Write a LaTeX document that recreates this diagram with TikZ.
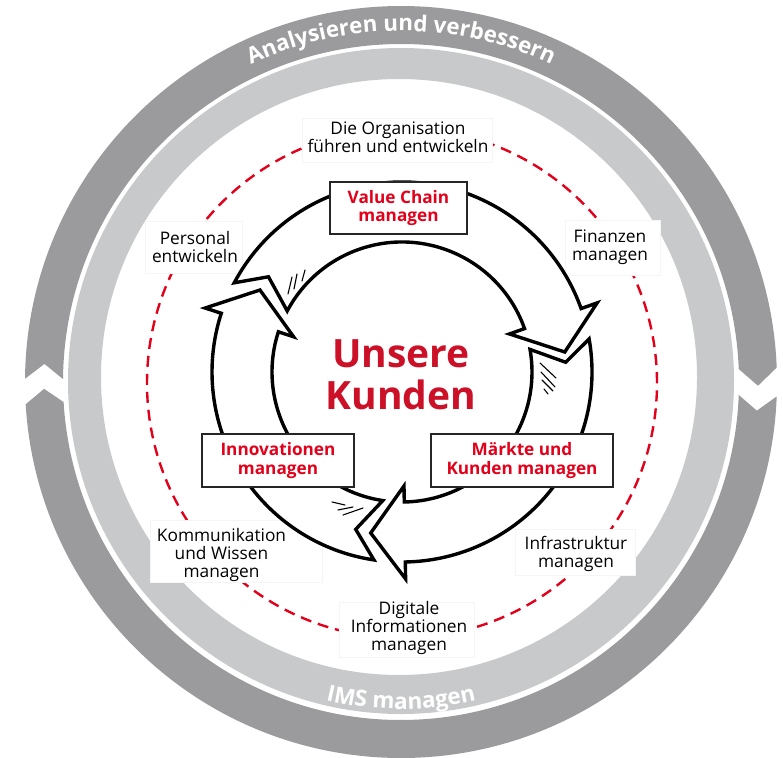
\documentclass[tikz,border=0pt]{standalone}
\usepackage{fontspec}
\setmainfont{Open Sans}
\usetikzlibrary{decorations.text}
\definecolor{ringdark}{RGB}{155,155,157}
\definecolor{ringlight}{RGB}{200,201,203}
\definecolor{abbred}{RGB}{226,0,26}
\definecolor{kundenred}{RGB}{204,16,40}
\newcommand\cycarrow[4]{%
  \draw[cyc] (#1:190) arc[start angle=#1,end angle=#3,radius=190] -- (#3:207) -- (#4:164) -- (#3:114) -- (#3:130) arc[start angle=#3,end angle=#1,radius=130] -- (#2:164) -- cycle;}
\begin{document}
\begin{tikzpicture}[x=1pt,y=1pt,
  cyc/.style={draw=black,fill=white,line width=3.4pt,line join=miter},
  hatch/.style={draw=black,line width=1.1pt,line cap=round},
  redbox/.style={draw=black!85,line width=1.6pt,fill=white,text=abbred,font=\bfseries\fontsize{17.2}{18.5}\selectfont,align=center,inner sep=0pt},
  lblbox/.style={draw=black!4,line width=0.6pt,fill=white,inner sep=0pt},
  lbl/.style={font=\fontsize{17.3}{18}\selectfont,align=center,text=black,inner sep=0pt},
  ringtext/.style 2 args={decorate,decoration={text along path,text align=center,text={|\bfseries\fontsize{#1}{#1}\selectfont\color{white}|#2}}}]
\useasboundingbox (0,0) rectangle (783,-757);
% light ring
\fill[ringlight,even odd rule] (401,-381) circle[radius=333] (399,-377) circle[radius=298];
% dark ring with two arrow segments
\begin{scope}[shift={(401,-382)}]
\fill[ringdark] (179.5:376) arc[start angle=179.5,end angle=2.2,radius=376] -- (-0.6:357) -- (2.2:338) arc[start angle=2.2,end angle=179.5,radius=338] -- (177.1:357) -- cycle;
\fill[ringdark] (-2.2:376) arc[start angle=-2.2,end angle=-176.6,radius=376] -- (-178.9:357) -- (-176.6:338) arc[start angle=-176.6,end angle=-2.2,radius=338] -- (-4.6:357) -- cycle;
\path[ringtext={22.3}{Analysieren und verbessern}] (128:351) arc[start angle=128,end angle=52,radius=351];
\path[ringtext={22.5}{IMS managen}] (-118:327) arc[start angle=-118,end angle=-62,radius=327];
\end{scope}
% red dashed circle
\draw[abbred,line width=2.4pt,dash pattern=on 11pt off 7pt] (402,-383) circle[radius=255];
% faint label boxes
\node[lblbox,minimum width=190pt,minimum height=44pt] (orgbox) at (397,-140) {};
\node[lblbox,minimum width=97pt,minimum height=52pt] (persbox) at (193.5,-247) {};
\node[lblbox,minimum width=95pt,minimum height=55pt] (finbox) at (612.5,-247.5) {};
\node[lblbox,minimum width=172pt,minimum height=62pt] (kommbox) at (236,-551) {};
\node[lblbox,minimum width=120pt,minimum height=46pt] (infrabox) at (575,-552) {};
\node[lblbox,minimum width=135pt,minimum height=55pt] (digbox) at (406.5,-629.5) {};
% black cycle arrows
\begin{scope}[shift={(402,-372)}]
\cycarrow{10}{3.4}{-89}{-101}
\cycarrow{-98.5}{-106.4}{-198}{-210}
\cycarrow{152}{144.5}{19.5}{7}
\end{scope}
% hatch strokes
\draw[hatch] (288,-294) -- (292,-277);
\draw[hatch] (294,-289) -- (297,-274);
\draw[hatch] (302,-281) -- (305,-270);
\draw[hatch] (540,-363) -- (556,-378);
\draw[hatch] (541,-372) -- (555,-387);
\draw[hatch] (542,-380) -- (553,-391);
\draw[hatch] (544,-389) -- (548,-394);
\draw[hatch] (332,-502) -- (345,-505);
\draw[hatch] (338,-510) -- (353,-507);
\draw[hatch] (343,-515) -- (363,-508);
% red boxes
\node[redbox,minimum width=137pt,minimum height=52pt] (vc) at (398.5,-208) {Value Chain\\managen};
\node[redbox,minimum width=152pt,minimum height=53pt] (inno) at (278,-460.5) {Innovationen\\managen};
\node[redbox,minimum width=182pt,minimum height=53pt] (mkt) at (522,-460.5) {Märkte und\\Kunden managen};
% center
\node[font=\bfseries\fontsize{39}{42}\selectfont,text=kundenred,align=center,inner sep=0pt] (kunden) at (401,-375) {Unsere\\Kunden};
% labels
\node[lbl] (org) at (398,-137) {Die Organisation\\führen und entwickeln};
\node[lbl] (pers) at (195,-247) {Personal\\entwickeln};
\node[lbl] (fin) at (610,-247) {Finanzen\\managen};
\node[lbl] (komm) at (221.5,-555) {Kommunikation\\und Wissen\\managen};
\node[lbl] (infra) at (576,-554) {Infrastruktur\\managen};
\node[lbl] (dig) at (409,-628) {Digitale\\Informationen\\managen};
\end{tikzpicture}
\end{document}
